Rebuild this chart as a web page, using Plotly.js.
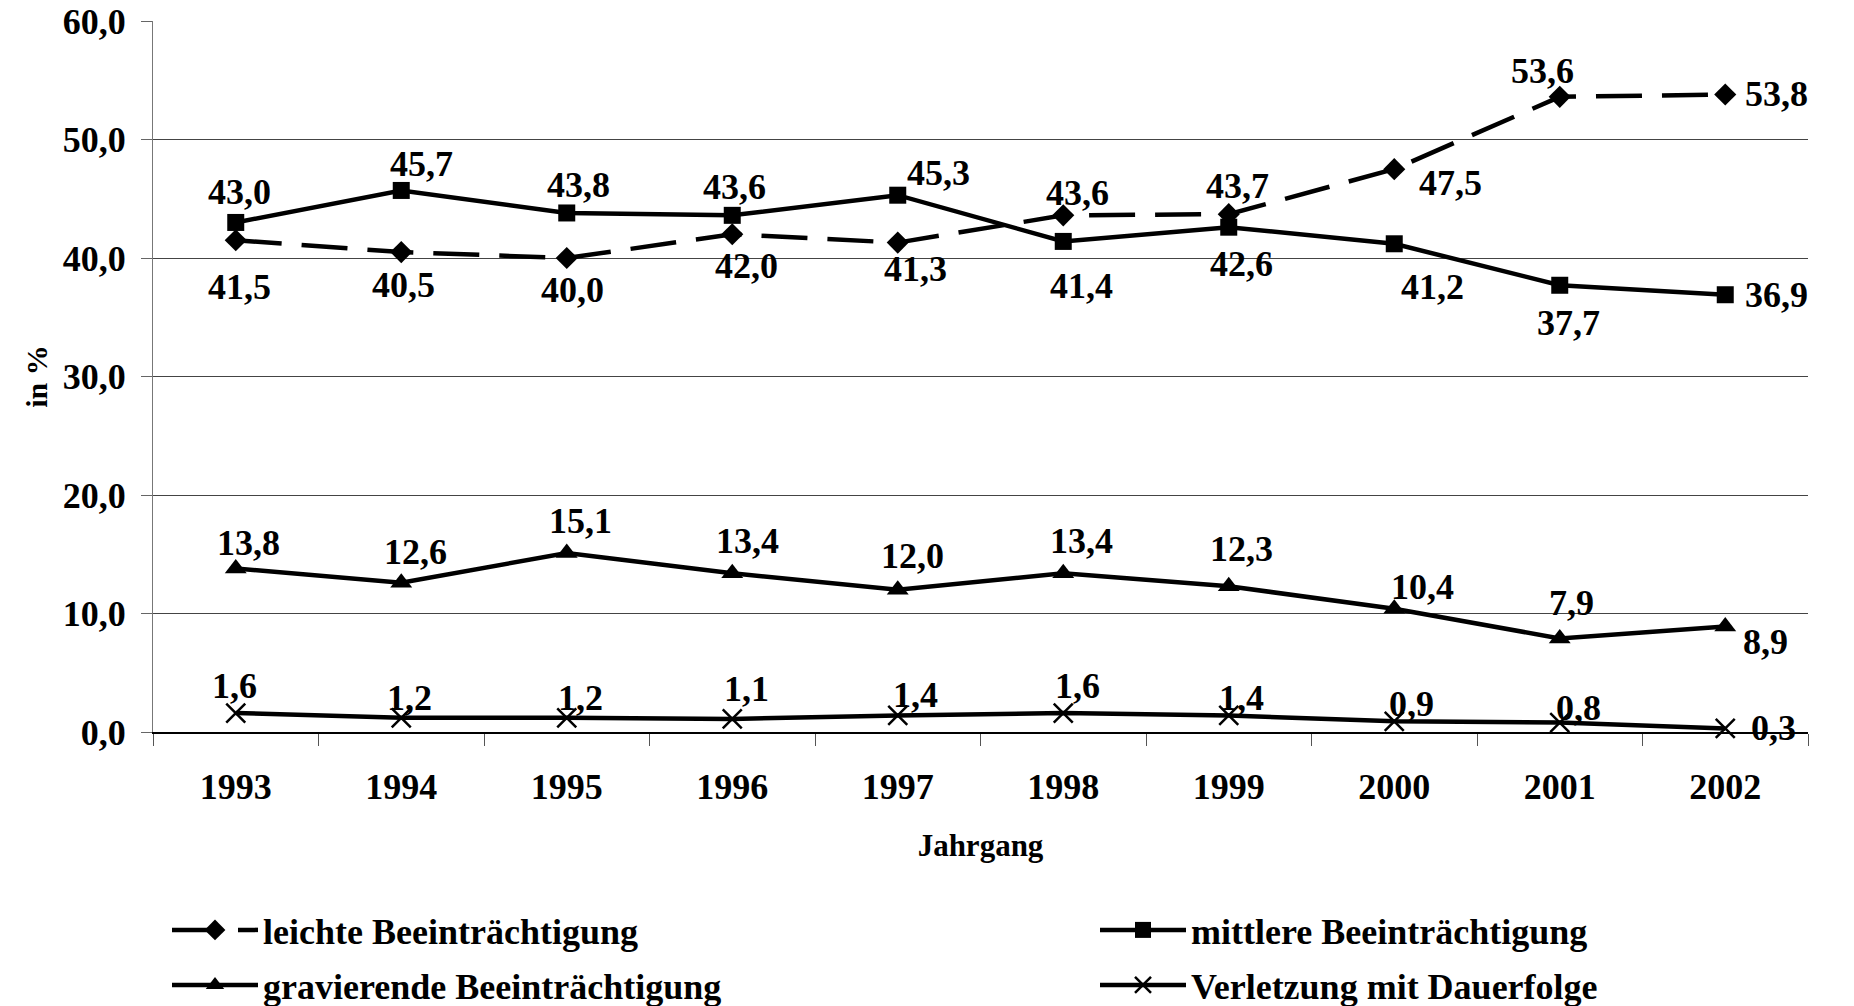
<!DOCTYPE html>
<html>
<head>
<meta charset="utf-8">
<script src="https://cdn.plot.ly/plotly-3.0.1.min.js"></script>
<style>
  html, body { margin: 0; padding: 0; background: #fff; }
  #chart { width: 1854px; height: 1006px; }
</style>
</head>
<body>
<div id="chart"></div>
<script>
// ---- data ----
const years = ['1993','1994','1995','1996','1997','1998','1999','2000','2001','2002'];
const seriesNames = ['leichte Beeinträchtigung', 'mittlere Beeinträchtigung', 'gravierende Beeinträchtigung', 'Verletzung mit Dauerfolge'];
const leichte     = [41.5, 40.5, 40.0, 42.0, 41.3, 43.6, 43.7, 47.5, 53.6, 53.8];
const mittlere    = [43.0, 45.7, 43.8, 43.6, 45.3, 41.4, 42.6, 41.2, 37.7, 36.9];
const gravierende = [13.8, 12.6, 15.1, 13.4, 12.0, 13.4, 12.3, 10.4, 7.9, 8.9];
const verletzung  = [1.6, 1.2, 1.2, 1.1, 1.4, 1.6, 1.4, 0.9, 0.8, 0.3];
const yTicks = [0, 10, 20, 30, 40, 50, 60];
const yGrid = [10, 20, 30, 40, 50];

// ---- label placement (pixel shifts of data labels relative to their point) ----
const shiftLeichte     = [[4,-47],[2,-33],[6,-32],[14,-32],[18,-26],[14,22],[9,28],[56,-14],[-17,26],[51,0]];
const shiftMittlere    = [[4,30],[20,26],[12,28],[2,28],[41,22],[18,-45],[13,-37],[38,-43],[9,-38],[51,0]];
const shiftGravierende = [[13,25],[14,31],[14,32],[15,32],[15,34],[18,32],[13,37],[28,22],[12,35],[40,-15]];
const shiftVerletzung  = [[-1,27],[8,20],[14,20],[14,30],[18,20],[14,27],[13,17],[17,17],[19,15],[48,0]];

const FONT = 'Liberation Serif, Times New Roman, serif';
const fmt = v => v.toFixed(1).replace('.', ',');

const seriesVals = [leichte, mittlere, gravierende, verletzung];
const seriesShifts = [shiftLeichte, shiftMittlere, shiftGravierende, shiftVerletzung];
const seriesLegend = ['legend', 'legend2', 'legend3', 'legend4'];
const markerStyles = [
  {symbol: 'diamond', size: 17, color: '#000'},
  {symbol: 'square', size: 17, color: '#000'},
  {symbol: 'triangle-up', size: 19, color: '#000'},
  {symbol: 'x-thin', size: 19, color: '#000', line: {width: 2.5, color: '#000'}}
];
const lineStyles = [
  {color: '#000', width: 4.5, dash: '46px,20px'},
  {color: '#000', width: 4.5},
  {color: '#000', width: 4.5},
  {color: '#000', width: 4.5}
];

const traces = seriesVals.map((vals, i) => ({
  type: 'scatter',
  mode: 'lines+markers',
  x: years,
  y: vals,
  name: seriesNames[i],
  legend: seriesLegend[i],
  line: lineStyles[i],
  marker: markerStyles[i],
  cliponaxis: false,
  hoverinfo: 'x+y'
}));

// overlay axis only for interior gridlines
traces.push({
  type: 'scatter', x: [years[0]], y: [null], yaxis: 'y2', showlegend: false, hoverinfo: 'skip'
});

const labelFont = {family: FONT, size: 36, color: '#000', weight: 'bold'};
const annotations = [];
seriesVals.forEach((vals, i) => {
  vals.forEach((v, j) => {
    annotations.push({
      x: j, y: v, xref: 'x', yref: 'y',
      text: fmt(v), showarrow: false,
      xshift: seriesShifts[i][j][0], yshift: seriesShifts[i][j][1],
      font: labelFont
    });
  });
});

const legendBase = {
  orientation: 'h',
  xref: 'container', yref: 'container',
  xanchor: 'left',
  yanchor: 'middle',
  itemwidth: 86,
  font: {family: FONT, size: 36, color: '#000', weight: 'bold'},
  bgcolor: 'rgba(0,0,0,0)', borderwidth: 0
};
const col1 = (174 - 7) / 1854, col2 = (1102 - 7) / 1854;
const row1 = 1 - 930 / 1006, row2 = 1 - 985 / 1006;

const layout = {
  width: 1854, height: 1006,
  margin: {l: 153, r: 46, t: 21, b: 274, autoexpand: false},
  paper_bgcolor: '#fff', plot_bgcolor: '#fff',
  separators: ',.',
  font: {family: FONT, color: '#000', weight: 'bold'},
  showlegend: true,
  legend:  Object.assign({}, legendBase, {x: col1, y: row1}),
  legend2: Object.assign({}, legendBase, {x: col2, y: row1}),
  legend3: Object.assign({}, legendBase, {x: col1, y: row2}),
  legend4: Object.assign({}, legendBase, {x: col2, y: row2}),
  xaxis: {
    type: 'category',
    range: [-0.5, years.length - 0.5],
    autorange: false,
    tickson: 'boundaries',
    ticks: 'outside', ticklen: 12, tickcolor: '#555', tickwidth: 1,
    showline: true, linecolor: '#000', linewidth: 1.5,
    showgrid: false, zeroline: false,
    tickangle: 0,
    automargin: false,
    tickfont: {family: FONT, size: 36, color: '#000', weight: 'bold'},
    ticklabelstandoff: 22,
    title: {text: 'Jahrgang', font: {family: FONT, size: 31, color: '#000', weight: 'bold'}, standoff: 28},
    fixedrange: true
  },
  yaxis: {
    range: [0, 60],
    autorange: false,
    tickvals: yTicks,
    tickformat: '.1f',
    ticks: 'outside', ticklen: 11, tickcolor: '#666', tickwidth: 1,
    showline: true, linecolor: '#777', linewidth: 1,
    showgrid: false, zeroline: false,
    automargin: false,
    tickfont: {family: FONT, size: 36, color: '#000', weight: 'bold'},
    ticklabelstandoff: 8,
    title: {text: 'in %', font: {family: FONT, size: 30, color: '#000', weight: 'bold'}, standoff: 6},
    fixedrange: true
  },
  yaxis2: {
    overlaying: 'y', range: [0, 60], autorange: false,
    tickvals: yGrid,
    showticklabels: false, ticks: '',
    showgrid: true, gridcolor: '#444', gridwidth: 1,
    zeroline: false, showline: false,
    automargin: false,
    fixedrange: true
  },
  annotations: annotations
};

Plotly.newPlot('chart', traces, layout, {staticPlot: true, displayModeBar: false});
</script>
</body>
</html>
